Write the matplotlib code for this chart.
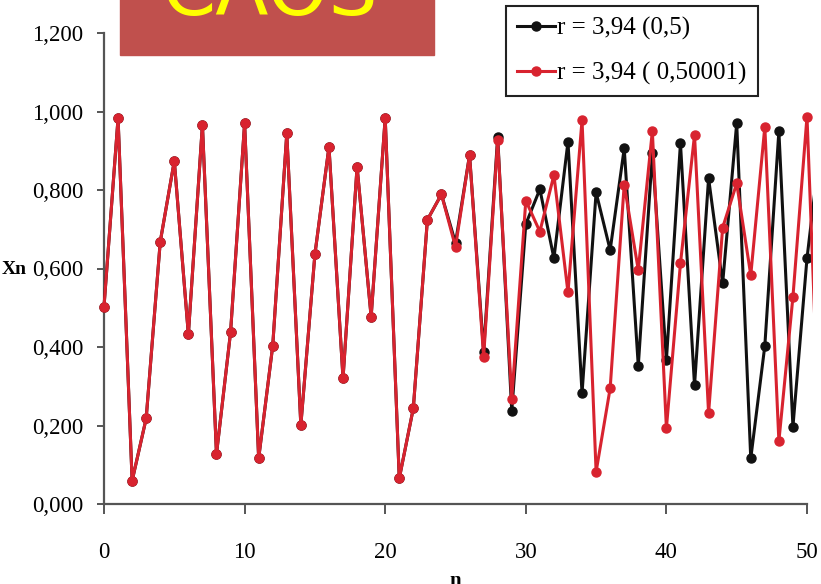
import matplotlib
matplotlib.use("Agg")
import matplotlib.pyplot as plt
from matplotlib.patches import Rectangle
from matplotlib.transforms import Bbox, TransformedBbox

# values
n = list(range(52))
x_05 = [0.503, 0.983, 0.059, 0.218, 0.668, 0.874, 0.432, 0.966, 0.127, 0.437,
        0.970, 0.116, 0.403, 0.944, 0.201, 0.636, 0.910, 0.320, 0.859, 0.477,
        0.984, 0.065, 0.244, 0.724, 0.789, 0.665, 0.889, 0.388, 0.936, 0.237,
        0.713, 0.802, 0.626, 0.923, 0.282, 0.794, 0.647, 0.906, 0.352, 0.893,
        0.367, 0.919, 0.302, 0.830, 0.562, 0.970, 0.116, 0.403, 0.950, 0.197,
        0.626, 0.930]
x_050001 = [0.503, 0.983, 0.059, 0.218, 0.668, 0.874, 0.432, 0.966, 0.127, 0.437,
            0.970, 0.116, 0.403, 0.944, 0.201, 0.636, 0.910, 0.320, 0.859, 0.477,
            0.984, 0.065, 0.244, 0.724, 0.789, 0.655, 0.889, 0.375, 0.927, 0.267,
            0.773, 0.694, 0.838, 0.539, 0.978, 0.082, 0.295, 0.814, 0.596, 0.950,
            0.193, 0.613, 0.940, 0.231, 0.704, 0.817, 0.583, 0.961, 0.160, 0.528,
            0.987, 0.050]
labels = ["r = 3,94 (0,5)", "r = 3,94 ( 0,50001)"]
xticks = [0, 10, 20, 30, 40, 50]
yticks = [0.0, 0.2, 0.4, 0.6, 0.8, 1.0, 1.2]
yticklabels = ["0,000", "0,200", "0,400", "0,600", "0,800", "1,000", "1,200"]
title = "CAOS"

W, H = 821, 584
plt.rcParams["font.family"] = ["Liberation Serif", "DejaVu Serif"]

fig = plt.figure(figsize=(W / 100, H / 100), dpi=100)
ax = fig.add_axes([104 / W, (H - 504) / H, 703 / W, 471 / H])

# the source picture was cropped a few pixels right of n = 50
clip = TransformedBbox(Bbox([[0, 0], [813 / W, 1]]), fig.transFigure)
l1, = ax.plot(n, x_05, color="#111111", lw=2.2, marker="o", ms=6.5,
              label=labels[0], zorder=3)
l2, = ax.plot(n, x_050001, color="#d8232f", lw=2.2, marker="o", ms=6.5,
              label=labels[1], zorder=4)
for ln in (l1, l2):
    ln.set_clip_box(clip)

ax.set_xlim(0, 50)
ax.set_ylim(0, 1.2)
ax.set_xticks(xticks)
ax.set_yticks(yticks)
ax.set_yticklabels(yticklabels)

for side in ["top", "right"]:
    ax.spines[side].set_visible(False)
for side in ["left", "bottom"]:
    ax.spines[side].set_color("#555555")
    ax.spines[side].set_linewidth(1.6)

ax.tick_params(axis="y", direction="out", length=5, width=1.4, color="#555555",
               pad=10, labelsize=16.5)
ax.tick_params(axis="x", direction="out", length=7, width=1.4, color="#555555",
               pad=20, labelsize=16.5)

fig.text(14 / W, 1 - 270 / H, "Xn", fontsize=14, fontweight="bold",
         ha="center", va="center")
fig.text(455 / W, 1 - 571 / H, "n", fontsize=15, fontweight="bold",
         ha="center", va="top")

leg = ax.legend(loc="upper left", bbox_to_anchor=(506 / W, 1 - 6 / H),
                bbox_transform=fig.transFigure, borderaxespad=0,
                fontsize=18, handlelength=1.5, handletextpad=0.1,
                labelspacing=0.85, borderpad=0.45, fancybox=False,
                framealpha=1, edgecolor="#222222")
leg.get_frame().set_linewidth(1.5)

# red title box at the top, cut off by the figure edge
fig.patches.append(Rectangle((120 / W, 1 - 55 / H), 314 / W, 60 / H,
                             transform=fig.transFigure, color="#c0504d",
                             zorder=5))
fig.text(270 / W, 1 - 15 / H, title, fontsize=56, color="#ffff00",
         family="DejaVu Sans", ha="center", va="baseline", zorder=6)

fig.savefig("out.png", dpi=100)
